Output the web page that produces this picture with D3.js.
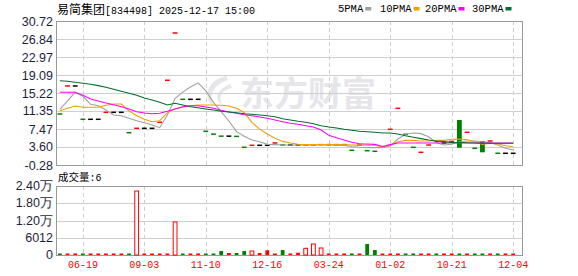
<!DOCTYPE html>
<html>
<head>
<meta charset="utf-8">
<script src="https://cdn.jsdelivr.net/npm/d3@7"></script>
<style>
  body { margin: 0; background: #fff; }
  svg text { font-family: "Liberation Sans", Arial, sans-serif; }
</style>
</head>
<body>
<svg id="chart" width="578" height="276"></svg>
<script>
// ---- data ----
var stockName = '易简集团';
var stockInfo = '[834498] 2025-12-17 15:00';
var lastVolume = 6;

// day index -> tick label (every 8th trading day)
var tickIndex = [3, 11, 19, 27, 35, 43, 51, 59];
var tickLabels = ['06-19', '09-03', '11-10', '12-16', '03-24', '01-02', '10-21', '12-04'];

var priceTicks = [-0.28, 3.60, 7.47, 11.35, 15.22, 19.09, 22.97, 26.84, 30.72];
var volumeTicks = [0, 6012, 12024, 18036, 24048];
var volumeTickLabels = ['0', '6012', '1.20万', '1.80万', '2.40万'];

var closes = [10.70, 16.73, 16.73, 9.56, 9.56, 9.56, 11.06, 11.06, 11.06, 6.67,
              7.62, 7.62, 7.62, 8.91, 17.96, 28.14, 13.86, 13.86, 13.86, 6.97,
              6.36, 5.93, 5.93, 5.88, 3.53, 3.96, 3.96, 3.96, 4.46, 4.03,
              4.03, 4.03, 4.03, 4.05, 4.10, 4.10, 4.10, 4.10, 2.88, 4.00,
              2.80, 2.67, 3.60, 7.40, 11.92, 6.33, 3.53, 2.45, 4.03, 4.82,
              4.46, 4.95, 3.44, 6.76, 3.31, 2.45, 4.89, 2.24, 2.24, 2.24];
var opens  = [10.72, 16.71, 16.73, 9.58, 9.56, 9.56, 11.04, 11.06, 11.06, 6.69,
              7.60, 7.62, 7.62, 8.89, 17.94, 28.12, 13.88, 13.86, 13.86, 6.99,
              6.38, 5.95, 5.93, 5.90, 3.55, 3.94, 3.96, 3.96, 4.44, 4.05,
              4.03, 4.03, 4.01, 4.03, 4.08, 4.10, 4.10, 4.10, 2.90, 3.98,
              2.82, 2.69, 3.58, 7.38, 11.90, 6.35, 3.55, 2.43, 4.01, 4.84,
              4.46, 4.52, 9.41, 6.74, 3.33, 4.89, 4.67, 2.26, 2.24, 2.24];
var volumes = [20, 20, 20, 20, 20, 20, 20, 20, 20, 20,
               22300, 20, 20, 20, 20, 11500, 20, 20, 20, 20,
               20, 1400, 700, 700, 1400, 1400, 700, 1640, 50, 1750,
               50, 800, 2330, 3830, 2440, 50, 50, 50, 50, 50,
               3830, 1740, 50, 50, 50, 50, 50, 50, 50, 50,
               50, 50, 50, 50, 50, 50, 50, 50, 50, 6];

var ma5  = [11.71, 13.50, 15.37, 14.51, 12.79, 12.49, 11.56, 10.48, 10.33, 9.77,
            9.26, 8.83, 8.33, 7.75, 10.48, 14.08, 15.40, 16.50, 17.40, 15.70,
            13.20, 11.20, 9.20, 6.90, 5.90, 5.10, 4.74, 4.17, 4.10, 4.03,
            4.03, 4.03, 4.03, 4.03, 4.03, 4.03, 4.00, 3.95, 3.70, 3.55,
            3.45, 3.45, 3.45, 3.81, 5.32, 6.33, 6.61, 6.47, 5.81, 4.53,
            4.03, 4.17, 4.74, 4.89, 4.89, 4.74, 4.53, 4.03, 3.31, 2.95];
var ma10 = [11.41, 11.93, 12.42, 12.14, 12.14, 12.14, 12.57, 12.85, 12.85, 11.41,
            10.33, 9.56, 9.04, 9.26, 10.98, 11.84, 12.14, 12.49, 12.64, 12.64,
            12.64, 12.57, 12.42, 11.93, 10.98, 8.90, 7.45, 6.40, 5.50, 4.80,
            4.45, 4.20, 4.10, 4.12, 4.12, 4.12, 4.12, 4.12, 4.03, 4.00,
            4.00, 4.00, 3.60, 3.96, 4.74, 5.03, 5.03, 4.89, 4.89, 5.03,
            5.03, 5.25, 5.32, 5.17, 4.74, 4.17, 4.39, 4.30, 3.88, 3.66];
var ma20 = [15.37, 15.37, 15.37, 14.73, 13.93, 13.50, 13.07, 12.70, 12.27, 11.77,
            11.19, 10.90, 10.76, 10.85, 11.28, 11.77, 12.27, 12.49, 12.49, 12.21,
            11.93, 11.50, 11.13, 10.85, 10.55, 10.33, 10.05, 9.77, 9.41, 9.04,
            8.70, 8.48, 8.18, 7.90, 7.25, 6.10, 5.60, 5.10, 4.61, 4.31,
            4.24, 4.17, 3.70, 4.10, 4.46, 4.46, 4.46, 4.46, 4.46, 4.46,
            4.46, 4.46, 4.46, 4.46, 4.46, 4.46, 4.46, 4.46, 4.46, 4.46];
var ma30 = [17.87, 17.74, 17.52, 17.31, 17.09, 16.80, 16.45, 16.02, 15.59, 15.16,
            14.73, 14.14, 13.71, 13.22, 12.64, 13.00, 12.64, 12.27, 12.06, 11.77,
            11.56, 11.28, 11.13, 10.98, 10.76, 10.63, 10.48, 10.33, 10.12, 9.69,
            9.41, 9.13, 8.91, 8.61, 8.18, 7.90, 7.68, 7.40, 7.19, 6.97,
            6.89, 6.76, 6.61, 6.61, 6.39, 6.00, 5.70, 5.40, 5.10, 4.90,
            4.75, 4.60, 4.55, 4.50, 4.45, 4.40, 4.40, 4.40, 4.40, 4.40];

var maNames = ['5PMA', '10PMA', '20PMA', '30PMA'];
var maSeries = [ma5, ma10, ma20, ma30];
var maColors = ['#a0a0a0', '#f0a000', '#ff00ff', '#006f2e'];

// ---- layout ----
var RED = '#ff0000', GREEN = '#008000';
var left = 56, right = 522, plotRight = 517;
var priceTop = 21, priceBottom = 165;
var volTop = 186, volBottom = 255;

var svg = d3.select('#chart');

var x = d3.scaleBand()
    .domain(d3.range(closes.length))
    .range([left, plotRight]);
var cx = function(i) { return x(i) + x.bandwidth() / 2; };
var yPrice = d3.scaleLinear().domain([-0.28, 30.72]).range([priceBottom, priceTop]);
var yVol = d3.scaleLinear().domain([0, 24048]).range([volBottom, volTop]);

// up = 1, down = -1, flat = 0
var dir = function(i) {
  return closes[i] > opens[i] ? 1 : (closes[i] < opens[i] ? -1 : 0);
};

// watermark
var wm = svg.append('g').attr('fill', '#e6e6ea');
wm.append('path')
    .attr('d', 'M226,76 C206,80 202,100 214,106 C208,96 214,84 228,80 Z M230,84 C216,90 214,100 222,104 C218,96 222,90 232,88 Z');
wm.append('text')
    .attr('x', 240).attr('y', 106)
    .style('font-family', '"Noto Sans CJK SC", sans-serif')
    .style('font-size', '34px').style('font-weight', 'bold')
    .text('东方财富');

// horizontal grid
svg.append('g').selectAll('line')
    .data(priceTicks.slice(1, -1))
  .enter().append('line')
    .attr('x1', left).attr('x2', right)
    .attr('y1', function(d) { return Math.round(yPrice(d)) + 0.5; })
    .attr('y2', function(d) { return Math.round(yPrice(d)) + 0.5; })
    .attr('stroke', '#cfcfcf');
svg.append('g').selectAll('line')
    .data(volumeTicks.slice(1, -1))
  .enter().append('line')
    .attr('x1', left).attr('x2', right)
    .attr('y1', function(d) { return Math.round(yVol(d)) + 0.5; })
    .attr('y2', function(d) { return Math.round(yVol(d)) + 0.5; })
    .attr('stroke', '#cfcfcf');

// vertical dashed grid
[[priceTop, priceBottom], [volTop, volBottom]].forEach(function(r) {
  svg.append('g').selectAll('line')
      .data(tickIndex)
    .enter().append('line')
      .attr('x1', function(d) { return Math.round(cx(d)) + 0.5; })
      .attr('x2', function(d) { return Math.round(cx(d)) + 0.5; })
      .attr('y1', r[0]).attr('y2', r[1])
      .attr('stroke', '#cfcfcf')
      .attr('stroke-dasharray', '4,3');
});

// frames
[[priceTop, priceBottom], [volTop, volBottom]].forEach(function(r) {
  svg.append('rect')
      .attr('x', left + 0.5).attr('y', r[0] + 0.5)
      .attr('width', right - left).attr('height', r[1] - r[0])
      .attr('fill', 'none')
      .attr('stroke', '#999');
});

// axes
var priceAxis = svg.append('g')
    .attr('transform', 'translate(' + left + ',0)')
    .call(d3.axisLeft(yPrice).tickValues(priceTicks).tickSize(0).tickPadding(3)
        .tickFormat(function(d) { return d.toFixed(2); }));
var volAxis = svg.append('g')
    .attr('transform', 'translate(' + left + ',0)')
    .call(d3.axisLeft(yVol).tickValues(volumeTicks).tickSize(0).tickPadding(3)
        .tickFormat(function(d, i) { return volumeTickLabels[i]; }));
[priceAxis, volAxis].forEach(function(a) {
  a.select('.domain').remove();
  a.selectAll('text')
      .attr('fill', '#1e1e3c')
      .style('font-size', '12.5px')
      .style('font-family', '"Liberation Sans", sans-serif');
});
volAxis.selectAll('text').attr('dy', '0.28em');

var dateAxis = svg.append('g')
    .attr('transform', 'translate(0,' + volBottom + ')')
    .call(d3.axisBottom(x).tickValues(tickIndex).tickSize(0).tickPadding(6)
        .tickFormat(function(d, i) { return tickLabels[i]; }));
dateAxis.select('.domain').remove();
dateAxis.selectAll('text')
    .attr('fill', RED)
    .style('font-size', '10px')
    .style('font-family', '"Liberation Mono", monospace');

// candles (drawn under the average lines)
var bw = 4.8;
svg.append('g').selectAll('rect')
    .data(d3.range(closes.length))
  .enter().append('rect')
    .attr('x', function(i) { return cx(i) - bw / 2; })
    .attr('y', function(i) {
      var hi = Math.max(opens[i], closes[i]);
      var h = yPrice(Math.min(opens[i], closes[i])) - yPrice(hi);
      return h < 1.5 ? yPrice(closes[i]) - 0.75 : yPrice(hi);
    })
    .attr('width', bw)
    .attr('height', function(i) {
      var h = yPrice(Math.min(opens[i], closes[i])) - yPrice(Math.max(opens[i], closes[i]));
      return Math.max(h, 1.5);
    })
    .attr('fill', function(i) {
      var d = dir(i);
      return d > 0 ? RED : (d < 0 ? GREEN : '#000');
    });

// moving averages
maSeries.forEach(function(s, k) {
  svg.append('path')
      .datum(s)
      .attr('fill', 'none')
      .attr('stroke', maColors[k])
      .attr('stroke-width', 1.1)
      .attr('d', d3.line().x(function(d, i) { return cx(i); }).y(function(d) { return yPrice(d); }));
});

// volume bars
svg.append('g').selectAll('rect')
    .data(d3.range(volumes.length))
  .enter().append('rect')
    .attr('x', function(i) { return cx(i) - bw / 2 + 0.5; })
    .attr('y', function(i) { return Math.min(yVol(volumes[i]), volBottom - 1.5); })
    .attr('width', bw - 1)
    .attr('height', function(i) { return Math.max(volBottom - yVol(volumes[i]), 1.5); })
    .attr('fill', function(i) {
      var d = dir(i);
      if (d < 0) return GREEN;
      return (d > 0 && volBottom - yVol(volumes[i]) > 3) ? '#fff' : RED;
    })
    .attr('stroke', function(i) {
      var d = dir(i);
      return (d > 0 && volBottom - yVol(volumes[i]) > 3) ? RED : 'none';
    });

// title
var title = svg.append('text').attr('x', 57).attr('y', 14).attr('fill', '#000');
title.append('tspan')
    .style('font-family', '"Noto Sans CJK SC", sans-serif').style('font-size', '12px')
    .text(stockName);
title.append('tspan')
    .style('font-family', '"Liberation Mono", monospace').style('font-size', '10px')
    .text(stockInfo);

var volTitle = svg.append('text').attr('x', 58).attr('y', 181).attr('fill', '#000');
volTitle.append('tspan')
    .style('font-family', '"Noto Sans CJK SC", sans-serif').style('font-size', '10.5px')
    .text('成交量');
volTitle.append('tspan')
    .style('font-family', '"Liberation Mono", monospace').style('font-size', '10px')
    .text(':' + lastVolume);

// legend
var legendX = [338, 380, 425, 472];
maNames.forEach(function(n, k) {
  var t = svg.append('text')
      .attr('x', legendX[k]).attr('y', 12)
      .attr('fill', '#000')
      .style('font-family', '"Liberation Mono", monospace')
      .style('font-size', '10.5px')
      .text(n);
  var w = t.node().getComputedTextLength();
  svg.append('rect')
      .attr('x', legendX[k] + w + 2).attr('y', 7)
      .attr('width', 6).attr('height', 3.5)
      .attr('fill', maColors[k]);
});
</script>
</body>
</html>
